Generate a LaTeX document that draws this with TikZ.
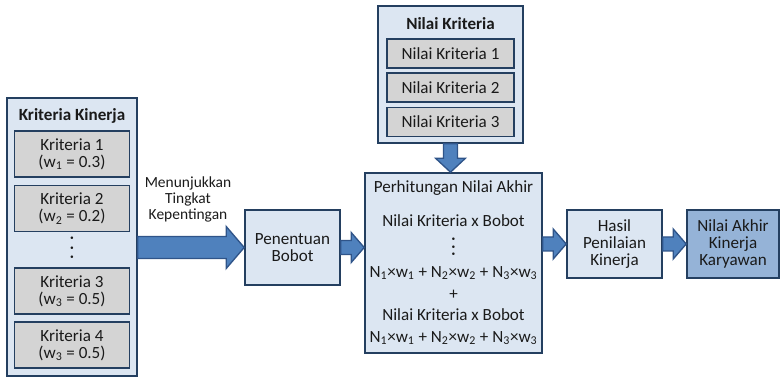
\documentclass[tikz,border=0pt]{standalone}
\usepackage{fontspec}
\setmainfont{Carlito}
\usetikzlibrary{calc}

\definecolor{boxline}{HTML}{243F60}
\definecolor{boxfill}{HTML}{DCE6F2}
\definecolor{grayfill}{HTML}{D4D4D4}
\definecolor{darkfill}{HTML}{95B3D7}
\definecolor{arrowfill}{HTML}{4F81BD}
\definecolor{arrowline}{HTML}{2F5489}
\definecolor{txtcol}{HTML}{1A1A1A}

\newcommand{\txtsize}{\fontsize{12.8pt}{12.8pt}\selectfont}
\newcommand{\lblsize}{\fontsize{11.6pt}{12pt}\selectfont}
\newcommand{\dotrow}[1]{\textbf{.\hspace{#1}.\hspace{#1}.}}

% block arrow: start, tip, shaft half width, head half width, head length
\newcommand{\fatarrow}[5]{%
	\path ($(#2)!#5!(#1)$) coordinate (hb);
	\draw[arrowshape] ($(#1)!#3!90:(#2)$) -- ($(hb)!#3!90:(#2)$) -- ($(hb)!#4!90:(#2)$) -- (#2)
	-- ($(hb)!#4!-90:(#2)$) -- ($(hb)!#3!-90:(#2)$) -- ($(#1)!#3!-90:(#2)$) -- cycle;}

\tikzset{every picture/.style={line width=0.75pt}}
\tikzset{
	outerbox/.style={draw=boxline, fill=boxfill, line width=1.2pt, inner sep=0pt, align=center, font=\txtsize, text=txtcol},
	innerbox/.style={draw=boxline, fill=grayfill, line width=1.2pt, inner sep=0pt, align=center, font=\txtsize, text=txtcol},
	txt/.style={inner sep=0pt, align=center, font=\txtsize, text=txtcol},
	dotstxt/.style={inner sep=0pt, font=\txtsize, text=txtcol, rotate=90},
	arrowshape/.style={draw=arrowline, fill=arrowfill, line width=1pt, line join=miter},
}

\begin{document}
\begin{tikzpicture}[x=0.75pt,y=0.75pt,yscale=-1,xscale=1]
	\useasboundingbox (0,0) rectangle (781,377);
	
	%Kriteria Kinerja
	\node[outerbox, minimum width=97.5pt, minimum height=208.5pt] (kk) at (72,237) {};
	\node[txt, font=\txtsize\bfseries] (kkT) at (72,116) {Kriteria Kinerja};
	\node[innerbox, minimum width=86.25pt, minimum height=34.5pt] (k1) at (72,154) {Kriteria 1\\(w\textsubscript{1} = 0.3)};
	\node[innerbox, minimum width=86.25pt, minimum height=34.5pt] (k2) at (72,208.5) {Kriteria 2\\(w\textsubscript{2} = 0.2)};
	\node[dotstxt] (kdots) at (72,248) {\dotrow{3.6pt}};
	\node[innerbox, minimum width=86.25pt, minimum height=34.5pt] (k3) at (72,291) {Kriteria 3\\(w\textsubscript{3} = 0.5)};
	\node[innerbox, minimum width=86.25pt, minimum height=34.5pt] (k4) at (72,345) {Kriteria 4\\(w\textsubscript{3} = 0.5)};
	
	%Nilai Kriteria
	\node[outerbox, minimum width=108.75pt, minimum height=102.75pt] (nk) at (450.5,74.5) {};
	\node[txt, font=\txtsize\bfseries] (nkT) at (450.5,24) {Nilai Kriteria};
	\node[innerbox, minimum width=95.25pt, minimum height=21.75pt] (n1) at (450.5,53.5) {Nilai Kriteria 1};
	\node[innerbox, minimum width=95.25pt, minimum height=21.75pt] (n2) at (450.5,87.5) {Nilai Kriteria 2};
	\node[innerbox, minimum width=95.25pt, minimum height=21.75pt] (n3) at (450.5,122) {Nilai Kriteria 3};
	
	%Penentuan Bobot
	\node[outerbox, minimum width=71.25pt, minimum height=56.25pt] (pen) at (292.5,247.5) {Penentuan\\Bobot};
	\node[txt, font=\lblsize] (lbl) at (188,199) {Menunjukkan\\Tingkat\\Kepentingan};
	
	%Perhitungan Nilai Akhir
	\node[outerbox, minimum width=132.75pt, minimum height=135pt] (perh) at (453.5,263) {};
	\node[txt] (perhT) at (453.5,188) {Perhitungan Nilai Akhir};
	\node[txt] (perhA) at (453.5,221) {Nilai Kriteria x Bobot};
	\node[dotstxt] (perhD) at (453.5,247) {\dotrow{2.2pt}};
	\node[txt] (perhB) at (453.5,273) {N\textsubscript{1}×w\textsubscript{1} + N\textsubscript{2}×w\textsubscript{2} + N\textsubscript{3}×w\textsubscript{3}};
	\node[txt] (perhP) at (453.5,295) {+};
	\node[txt] (perhC) at (453.5,315) {Nilai Kriteria x Bobot};
	\node[txt] (perhE) at (453.5,338) {N\textsubscript{1}×w\textsubscript{1} + N\textsubscript{2}×w\textsubscript{2} + N\textsubscript{3}×w\textsubscript{3}};
	
	%Hasil dan Nilai Akhir
	\node[outerbox, minimum width=71.25pt, minimum height=51pt] (hasil) at (614.5,244) {Hasil\\Penilaian\\Kinerja};
	\node[outerbox, fill=darkfill, minimum width=69pt, minimum height=51pt] (akhir) at (733,244) {Nilai Akhir\\Kinerja\\Karyawan};
	
	%Arrows
	\coordinate (a1s) at (kk.east |- pen.west);
	\fatarrow{a1s}{pen.west}{8.25pt}{15.75pt}{13.5pt}
	\coordinate (a2t) at (perh.west |- pen.east);
	\fatarrow{pen.east}{a2t}{5.25pt}{11.25pt}{9.75pt}
	\coordinate (a3s) at (perh.east |- hasil.west);
	\fatarrow{a3s}{hasil.west}{5.25pt}{11.25pt}{9.75pt}
	\fatarrow{hasil.east}{akhir.west}{5.25pt}{11.25pt}{9.75pt}
	\coordinate (a5t) at (nk.south |- perh.north);
	\fatarrow{nk.south}{a5t}{5.25pt}{11.25pt}{10.5pt}
	
\end{tikzpicture}
\end{document}
